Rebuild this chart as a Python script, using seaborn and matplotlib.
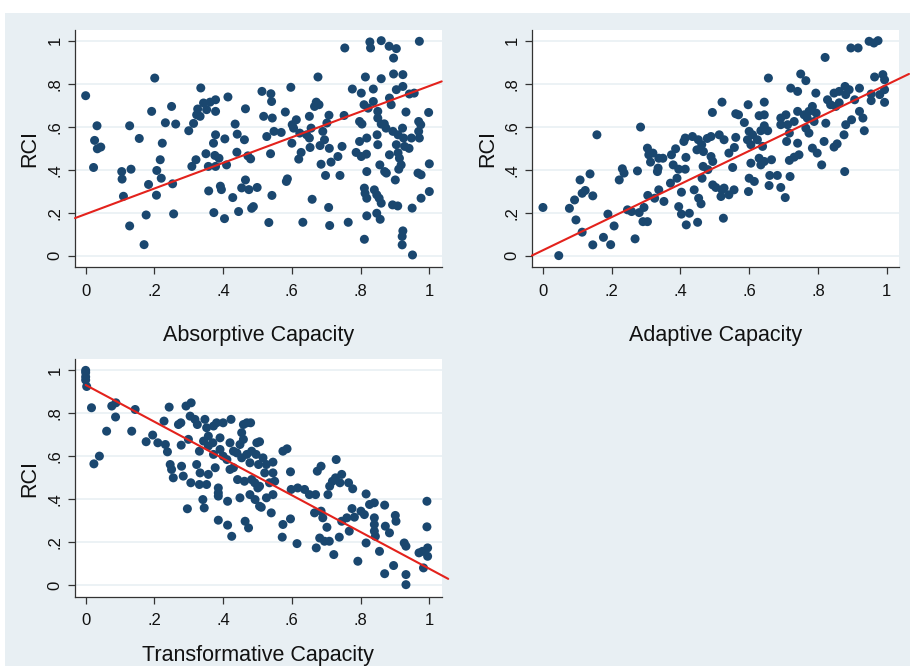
import numpy as np
import pandas as pd
import seaborn as sns
from matplotlib import pyplot as plt
from matplotlib.patches import Rectangle

# ---- data ----
tick_values = [0, 0.2, 0.4, 0.6, 0.8, 1]
tick_labels = ['0', '.2', '.4', '.6', '.8', '1']

absorptive_x = [
    0.000, 0.201, 0.033, 0.026, 0.034, 0.044, 0.023, 0.105, 0.106, 0.132, 0.110, 0.128,
    0.156, 0.128, 0.170, 0.176, 0.183, 0.206, 0.192, 0.232, 0.262, 0.250, 0.223, 0.217,
    0.207, 0.220, 0.253, 0.256, 0.300, 0.314, 0.323, 0.335, 0.326, 0.343, 0.352, 0.362,
    0.378, 0.378, 0.414, 0.465, 0.333, 0.309, 0.321, 0.350, 0.357, 0.378, 0.372, 0.405,
    0.376, 0.388, 0.378, 0.410, 0.358, 0.392, 0.395, 0.373, 0.404, 0.428, 0.445, 0.435,
    0.441, 0.462, 0.440, 0.472, 0.480, 0.465, 0.454, 0.475, 0.499, 0.483, 0.488, 0.513,
    0.539, 0.541, 0.518, 0.543, 0.527, 0.548, 0.569, 0.538, 0.542, 0.533, 0.597, 0.581,
    0.601, 0.613, 0.605, 0.600, 0.627, 0.620, 0.587, 0.584, 0.632, 0.659, 0.676, 0.671,
    0.679, 0.666, 0.651, 0.623, 0.643, 0.656, 0.651, 0.653, 0.682, 0.690, 0.695, 0.708,
    0.702, 0.709, 0.714, 0.685, 0.698, 0.707, 0.710, 0.734, 0.746, 0.740, 0.752, 0.754,
    0.764, 0.776, 0.797, 0.804, 0.802, 0.814, 0.797, 0.818, 0.787, 0.802, 0.817, 0.810,
    0.822, 0.837, 0.837, 0.827, 0.829, 0.860, 0.818, 0.811, 0.813, 0.818, 0.840, 0.847,
    0.818, 0.847, 0.857, 0.811, 0.860, 0.850, 0.850, 0.860, 0.848, 0.850, 0.856, 0.870,
    0.875, 0.854, 0.860, 0.883, 0.904, 0.896, 0.896, 0.923, 0.904, 0.923, 0.889, 0.884,
    0.869, 0.874, 0.894, 0.909, 0.922, 0.925, 0.904, 0.909, 0.928, 0.948, 0.941, 0.884,
    0.913, 0.918, 0.911, 0.932, 0.942, 0.956, 0.971, 0.969, 0.975, 0.969, 0.971, 0.998,
    0.901, 0.893, 0.908, 0.950, 0.967, 0.976, 1.000, 0.976, 1.000, 0.923, 0.921, 0.921,
    0.951,
]
absorptive_y = [
    0.744, 0.826, 0.604, 0.536, 0.497, 0.505, 0.410, 0.391, 0.356, 0.402, 0.276, 0.604,
    0.545, 0.138, 0.051, 0.189, 0.331, 0.281, 0.671, 0.618, 0.612, 0.694, 0.523, 0.446,
    0.396, 0.360, 0.334, 0.194, 0.581, 0.615, 0.655, 0.780, 0.682, 0.710, 0.679, 0.714,
    0.725, 0.671, 0.738, 0.683, 0.648, 0.415, 0.446, 0.474, 0.415, 0.562, 0.523, 0.543,
    0.466, 0.453, 0.415, 0.422, 0.301, 0.323, 0.307, 0.200, 0.172, 0.270, 0.205, 0.612,
    0.565, 0.539, 0.481, 0.464, 0.450, 0.352, 0.315, 0.307, 0.317, 0.220, 0.228, 0.764,
    0.753, 0.717, 0.648, 0.640, 0.554, 0.578, 0.573, 0.474, 0.280, 0.154, 0.783, 0.668,
    0.609, 0.632, 0.593, 0.523, 0.480, 0.449, 0.357, 0.345, 0.155, 0.262, 0.831, 0.714,
    0.702, 0.694, 0.648, 0.570, 0.562, 0.593, 0.547, 0.503, 0.512, 0.578, 0.539, 0.653,
    0.617, 0.499, 0.435, 0.425, 0.373, 0.224, 0.140, 0.461, 0.508, 0.373, 0.652, 0.966,
    0.155, 0.775, 0.624, 0.612, 0.756, 0.831, 0.531, 0.547, 0.480, 0.461, 0.472, 0.702,
    0.686, 0.717, 0.775, 0.994, 0.966, 1.000, 0.391, 0.314, 0.290, 0.267, 0.306, 0.283,
    0.185, 0.197, 0.169, 0.076, 0.823, 0.671, 0.640, 0.612, 0.562, 0.516, 0.422, 0.391,
    0.384, 0.267, 0.244, 0.974, 0.963, 0.919, 0.845, 0.842, 0.772, 0.787, 0.702, 0.733,
    0.613, 0.593, 0.578, 0.562, 0.593, 0.547, 0.516, 0.478, 0.508, 0.547, 0.499, 0.469,
    0.453, 0.422, 0.402, 0.668, 0.752, 0.756, 0.997, 0.624, 0.609, 0.578, 0.547, 0.666,
    0.352, 0.236, 0.231, 0.221, 0.384, 0.376, 0.427, 0.267, 0.298, 0.115, 0.089, 0.050,
    0.003,
]

adaptive_x = [
    0.000, 0.046, 0.077, 0.092, 0.096, 0.108, 0.114, 0.123, 0.114, 0.137, 0.145, 0.145,
    0.157, 0.176, 0.189, 0.197, 0.207, 0.222, 0.231, 0.236, 0.246, 0.258, 0.268, 0.275,
    0.284, 0.280, 0.294, 0.291, 0.304, 0.304, 0.308, 0.320, 0.313, 0.337, 0.335, 0.333,
    0.349, 0.305, 0.325, 0.337, 0.352, 0.374, 0.379, 0.386, 0.410, 0.414, 0.371, 0.390,
    0.395, 0.414, 0.403, 0.395, 0.403, 0.426, 0.417, 0.450, 0.416, 0.435, 0.452, 0.462,
    0.440, 0.453, 0.460, 0.466, 0.463, 0.448, 0.467, 0.478, 0.480, 0.493, 0.521, 0.489,
    0.513, 0.527, 0.489, 0.494, 0.494, 0.503, 0.521, 0.527, 0.518, 0.541, 0.556, 0.525,
    0.552, 0.541, 0.557, 0.561, 0.561, 0.569, 0.586, 0.597, 0.600, 0.595, 0.610, 0.605,
    0.605, 0.629, 0.600, 0.615, 0.598, 0.629, 0.644, 0.634, 0.644, 0.654, 0.624, 0.639,
    0.634, 0.644, 0.665, 0.644, 0.656, 0.660, 0.682, 0.658, 0.692, 0.705, 0.719, 0.692,
    0.707, 0.692, 0.712, 0.731, 0.717, 0.709, 0.721, 0.741, 0.741, 0.741, 0.717, 0.731,
    0.745, 0.750, 0.765, 0.760, 0.769, 0.774, 0.765, 0.774, 0.784, 0.795, 0.789, 0.794,
    0.784, 0.798, 0.811, 0.818, 0.821, 0.823, 0.828, 0.837, 0.847, 0.862, 0.852, 0.862,
    0.847, 0.856, 0.879, 0.891, 0.881, 0.876, 0.878, 0.881, 0.898, 0.896, 0.917, 0.907,
    0.921, 0.921, 0.931, 0.935, 0.949, 0.963, 0.975, 0.955, 0.955, 0.965, 0.989, 0.994,
    0.994, 0.994, 0.980,
]
adaptive_y = [
    0.224, 0.000, 0.220, 0.259, 0.166, 0.352, 0.290, 0.303, 0.109, 0.380, 0.278, 0.050,
    0.562, 0.085, 0.193, 0.051, 0.138, 0.352, 0.404, 0.384, 0.213, 0.205, 0.078, 0.394,
    0.598, 0.200, 0.224, 0.158, 0.158, 0.500, 0.469, 0.477, 0.435, 0.453, 0.407, 0.391,
    0.453, 0.280, 0.267, 0.306, 0.252, 0.469, 0.422, 0.497, 0.531, 0.547, 0.337, 0.360,
    0.402, 0.402, 0.295, 0.228, 0.193, 0.197, 0.143, 0.155, 0.457, 0.554, 0.539, 0.516,
    0.306, 0.267, 0.241, 0.415, 0.360, 0.492, 0.484, 0.545, 0.400, 0.666, 0.714, 0.554,
    0.562, 0.539, 0.461, 0.438, 0.329, 0.317, 0.306, 0.314, 0.275, 0.283, 0.306, 0.174,
    0.410, 0.477, 0.503, 0.550, 0.660, 0.655, 0.619, 0.702, 0.578, 0.539, 0.562, 0.516,
    0.430, 0.453, 0.360, 0.345, 0.298, 0.651, 0.655, 0.581, 0.604, 0.581, 0.539, 0.508,
    0.422, 0.438, 0.446, 0.714, 0.826, 0.373, 0.373, 0.326, 0.317, 0.270, 0.368, 0.640,
    0.655, 0.609, 0.609, 0.624, 0.570, 0.531, 0.779, 0.764, 0.671, 0.523, 0.443, 0.458,
    0.469, 0.845, 0.814, 0.655, 0.640, 0.671, 0.593, 0.570, 0.694, 0.663, 0.624, 0.756,
    0.500, 0.477, 0.422, 0.531, 0.922, 0.616, 0.725, 0.702, 0.756, 0.764, 0.694, 0.711,
    0.505, 0.520, 0.787, 0.772, 0.749, 0.562, 0.391, 0.609, 0.632, 0.966, 0.966, 0.725,
    0.779, 0.671, 0.640, 0.581, 0.997, 0.989, 1.000, 0.752, 0.721, 0.831, 0.842, 0.818,
    0.772, 0.713, 0.749,
]

transformative_x = [
    0.000, 0.000, 0.000, 0.000, 0.003, 0.017, 0.024, 0.040, 0.061, 0.076, 0.088, 0.087,
    0.134, 0.144, 0.176, 0.195, 0.210, 0.232, 0.238, 0.228, 0.243, 0.270, 0.277, 0.292,
    0.307, 0.304, 0.318, 0.325, 0.278, 0.299, 0.246, 0.250, 0.255, 0.279, 0.284, 0.306,
    0.323, 0.333, 0.331, 0.296, 0.331, 0.341, 0.345, 0.352, 0.357, 0.347, 0.352, 0.357,
    0.343, 0.357, 0.372, 0.381, 0.400, 0.391, 0.370, 0.372, 0.391, 0.400, 0.377, 0.386,
    0.386, 0.386, 0.386, 0.413, 0.425, 0.413, 0.423, 0.420, 0.430, 0.411, 0.430, 0.420,
    0.442, 0.449, 0.459, 0.469, 0.454, 0.459, 0.449, 0.440, 0.454, 0.469, 0.478, 0.483,
    0.464, 0.474, 0.462, 0.483, 0.478, 0.493, 0.501, 0.498, 0.503, 0.480, 0.496, 0.492,
    0.506, 0.506, 0.506, 0.516, 0.521, 0.526, 0.511, 0.540, 0.535, 0.545, 0.550, 0.545,
    0.526, 0.545, 0.574, 0.586, 0.596, 0.574, 0.596, 0.572, 0.615, 0.598, 0.617, 0.637,
    0.651, 0.669, 0.666, 0.685, 0.690, 0.671, 0.681, 0.695, 0.709, 0.702, 0.722, 0.674,
    0.685, 0.705, 0.710, 0.718, 0.729, 0.727, 0.740, 0.745, 0.765, 0.777, 0.738, 0.745,
    0.760, 0.775, 0.782, 0.767, 0.792, 0.801, 0.811, 0.816, 0.826, 0.840, 0.816, 0.840,
    0.840, 0.840, 0.843, 0.855, 0.870, 0.872, 0.884, 0.870, 0.896, 0.901, 0.903, 0.927,
    0.932, 0.932, 0.932, 0.970, 0.980, 0.983, 0.995, 0.995, 0.993, 0.993,
]
transformative_y = [
    1.000, 0.990, 0.970, 0.955, 0.925, 0.826, 0.565, 0.601, 0.717, 0.834, 0.849, 0.783,
    0.717, 0.818, 0.668, 0.699, 0.663, 0.655, 0.621, 0.764, 0.829, 0.748, 0.756, 0.834,
    0.849, 0.787, 0.772, 0.748, 0.652, 0.679, 0.562, 0.539, 0.500, 0.554, 0.508, 0.477,
    0.562, 0.523, 0.469, 0.356, 0.624, 0.399, 0.360, 0.469, 0.516, 0.772, 0.733, 0.694,
    0.671, 0.648, 0.741, 0.756, 0.756, 0.686, 0.663, 0.609, 0.632, 0.601, 0.547, 0.453,
    0.415, 0.430, 0.303, 0.280, 0.228, 0.391, 0.772, 0.663, 0.624, 0.585, 0.547, 0.539,
    0.492, 0.407, 0.748, 0.756, 0.710, 0.679, 0.655, 0.616, 0.593, 0.609, 0.570, 0.624,
    0.298, 0.267, 0.484, 0.492, 0.422, 0.399, 0.453, 0.663, 0.562, 0.756, 0.609, 0.477,
    0.461, 0.368, 0.668, 0.593, 0.523, 0.562, 0.363, 0.337, 0.477, 0.523, 0.484, 0.422,
    0.407, 0.573, 0.624, 0.635, 0.528, 0.283, 0.309, 0.224, 0.194, 0.446, 0.453, 0.446,
    0.422, 0.422, 0.337, 0.345, 0.314, 0.174, 0.220, 0.205, 0.205, 0.270, 0.143, 0.531,
    0.554, 0.422, 0.461, 0.484, 0.585, 0.500, 0.477, 0.516, 0.477, 0.449, 0.224, 0.298,
    0.314, 0.357, 0.317, 0.252, 0.112, 0.345, 0.329, 0.425, 0.376, 0.384, 0.197, 0.314,
    0.283, 0.252, 0.228, 0.158, 0.373, 0.275, 0.244, 0.054, 0.092, 0.325, 0.298, 0.197,
    0.182, 0.050, 0.003, 0.151, 0.158, 0.081, 0.135, 0.174, 0.391, 0.272,
]

# linear fit lines (intercept, slope) and the x span each line covers
fit_intercepts = [0.193, 0.025, 0.932]
fit_slopes = [0.596, 0.770, -0.855]
fit_spans = [(-0.031, 1.036), (-0.032, 1.065), (0.0, 1.055)]

panel_names = ['Absorptive Capacity', 'Adaptive Capacity', 'Transformative Capacity']

sns.set_theme(style='white')
plt.rcParams['font.family'] = ['Liberation Sans', 'DejaVu Sans']

DOT = '#1a476f'
LINE = '#e3221c'
BG = '#e8eff3'
GRID = '#eaf1f4'
AXC = '#333333'

fig = plt.figure(figsize=(9.1, 6.66), dpi=100)
fig.patch.set_facecolor('white')
fig.add_artist(Rectangle((5 / 910, 0), 1, 653 / 666, transform=fig.transFigure,
                         facecolor=BG, edgecolor='none', zorder=-10))

W, H = 910, 666
boxes = [
    [75 / W, 1 - 267 / H, 366.7 / W, 237.3 / H],
    [532.3 / W, 1 - 267 / H, 366.7 / W, 237.3 / H],
    [75 / W, 1 - 596.7 / H, 366.7 / W, 237.3 / H],
]
xlabel_pads = [19, 19, 12]
series = [(absorptive_x, absorptive_y), (adaptive_x, adaptive_y),
          (transformative_x, transformative_y)]

for i, (xs, ys) in enumerate(series):
    ax = fig.add_axes(boxes[i])
    ax.set_facecolor('white')
    df = pd.DataFrame({'x': xs, 'y': ys})
    sns.scatterplot(data=df, x='x', y='y', ax=ax, color=DOT, s=42,
                    edgecolor='none', linewidth=0, zorder=3)

    lx = np.array(fit_spans[i])
    ax.plot(lx, fit_intercepts[i] + fit_slopes[i] * lx, color=LINE, lw=1.5,
            clip_on=False, zorder=4)

    ax.set_xlim(-0.031, 1.036)
    ax.set_ylim(-0.053, 1.051)
    ax.set_xticks(tick_values)
    ax.set_xticklabels(tick_labels)
    ax.set_yticks(tick_values)
    ax.set_yticklabels(tick_labels, rotation=90, va='center')

    ax.yaxis.grid(True, color=GRID, lw=1.3)
    ax.xaxis.grid(False)
    ax.set_axisbelow(True)
    for s in ['top', 'right']:
        ax.spines[s].set_visible(False)
    for s in ['left', 'bottom']:
        ax.spines[s].set_color(AXC)
        ax.spines[s].set_linewidth(0.9)
    ax.tick_params(axis='both', direction='out', length=5, width=0.9, color=AXC,
                   labelsize=12, labelcolor='#111111', left=True, bottom=True)
    ax.tick_params(axis='y', pad=4)
    ax.tick_params(axis='x', pad=7)

    ax.set_xlabel(panel_names[i], fontsize=15.5, labelpad=xlabel_pads[i], color='#111111')
    ax.set_ylabel('RCI', fontsize=15.5, labelpad=5, color='#111111')

fig.savefig('out.png', dpi=100)
